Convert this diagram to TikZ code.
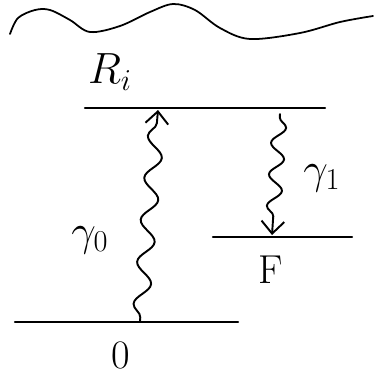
\documentclass[tikz,border=0pt]{standalone}
\usepackage{tikz}
\usetikzlibrary{arrows.meta,decorations.pathmorphing,positioning}

\begin{document}
\begin{tikzpicture}[x=0.02cm,y=-0.02cm,line width=1.1pt,line cap=round,
 level/.style={line width=1.3pt},
 photon/.style={decorate,decoration={snake,amplitude=4.5pt,segment length=24pt,pre length=2pt,post length=4pt}},
 photonb/.style={decorate,decoration={snake,amplitude=4pt,segment length=18pt,pre length=2pt,post length=5pt}},
 tip/.style={-{Straight Barb[length=7pt,width=13pt]}},
 lbl/.style={font=\fontsize{23}{27}\selectfont}]
\useasboundingbox (0,0) rectangle (373,383);
% upper edge
\draw[line width=1pt] plot[smooth,tension=0.55] coordinates {(10,34) (18,18) (35,10) (50,10) (70,20) (90,32) (120,26) (150,12) (173,4) (195,10) (220,28) (250,39) (300,33) (340,22) (373,16)};
% levels
\coordinate (Rl) at (85,108); \coordinate (Rr) at (325,108);
\coordinate (Fl) at (213,237); \coordinate (Fr) at (352,237);
\coordinate (Ol) at (15,322); \coordinate (Or) at (238,322);
\draw[level] (Rl) -- (Rr);
\draw[level] (Fl) -- (Fr);
\draw[level] (Ol) -- (Or);
% transitions
\coordinate (g0s) at (140,321); \coordinate (g0e) at (158,110);
\coordinate (g1s) at (280,114); \coordinate (g1e) at (272,235);
\draw[photon,tip] (g0s) -- (g0e);
\draw[photonb,tip] (g1s) -- (g1e);
% labels
\node[lbl] (Rlab) at (110,72) {$R_i$};
\node[lbl] (g0lab) at (90,240) {$\gamma_0$};
\node[lbl] (g1lab) at (322,178) {$\gamma_1$};
\node[lbl] (Flab) at (271,270) {F};
\node[lbl] (Olab) at (121,355) {0};
\end{tikzpicture}
\end{document}
